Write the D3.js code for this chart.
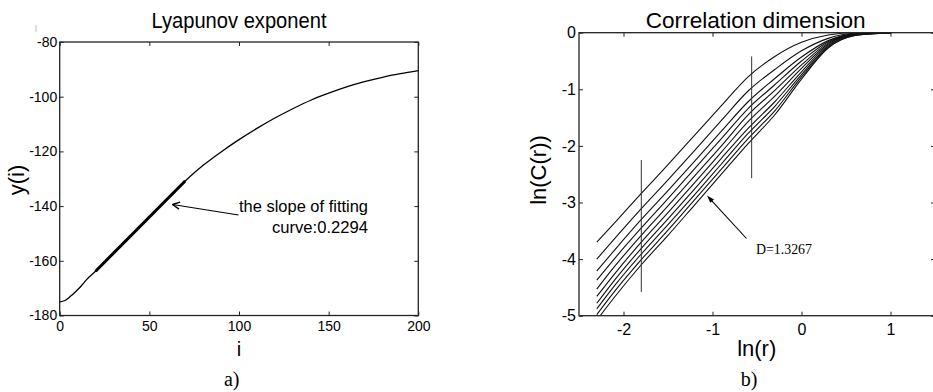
<!DOCTYPE html>
<html>
<head>
<meta charset="utf-8">
<script src="https://cdn.jsdelivr.net/npm/d3@7/dist/d3.min.js"></script>
<style>
  body { margin: 0; background: #fff; }
  svg { display: block; font-family: "Liberation Sans", Arial, sans-serif; }
  .tick text { fill: #000; }
</style>
</head>
<body>
<svg id="chart" width="933" height="392"></svg>
<script>
// ---------- Data: panel a) Lyapunov exponent ----------
const lyapI = [0, 3, 6, 9, 12, 15, 20, 30, 40, 50, 60, 70, 80, 90, 100, 110, 120, 130, 140, 150, 160, 170, 180, 190, 200];
const lyapY = [-175, -174.5, -173, -171.2, -169.2, -166.9, -163.8, -157.2, -150.6, -144, -137.4, -130.8, -125.1, -120.2, -115.7, -111.6, -107.8, -104.4, -101.3, -98.7, -96.4, -94.5, -92.9, -91.6, -90.5];
const fitI = [20, 70];
const fitY = [-163.8, -130.8];
const lyapXTicks = [0, 50, 100, 150, 200];
const lyapYTicks = [-80, -100, -120, -140, -160, -180];

// ---------- Data: panel b) Correlation dimension ----------
const lnR = [-2.3, -2.1, -1.8, -1.5, -1.2, -0.9, -0.6, -0.3, 0, 0.3, 0.6, 0.9, 1.0];
const lnC1  = [-3.70, -3.36, -2.84, -2.33, -1.81, -1.29, -0.78, -0.42, -0.17, -0.04, 0, 0, 0];
const lnC2  = [-4.00, -3.64, -3.11, -2.60, -2.08, -1.55, -1.03, -0.65, -0.32, -0.10, -0.01, 0, 0];
const lnC3  = [-4.21, -3.84, -3.30, -2.79, -2.27, -1.74, -1.22, -0.81, -0.43, -0.14, -0.02, 0, 0];
const lnC4  = [-4.37, -3.99, -3.45, -2.93, -2.40, -1.87, -1.34, -0.92, -0.50, -0.16, -0.02, 0, 0];
const lnC5  = [-4.53, -4.13, -3.58, -3.06, -2.53, -2.00, -1.45, -1.02, -0.57, -0.18, -0.03, 0, 0];
const lnC6  = [-4.66, -4.26, -3.70, -3.18, -2.65, -2.11, -1.57, -1.12, -0.63, -0.20, -0.03, 0, 0];
const lnC7  = [-4.78, -4.37, -3.81, -3.29, -2.76, -2.22, -1.69, -1.22, -0.69, -0.22, -0.04, 0, 0];
const lnC8  = [-4.88, -4.47, -3.91, -3.39, -2.86, -2.32, -1.78, -1.30, -0.74, -0.24, -0.04, 0, 0];
const lnC9  = [-4.98, -4.57, -4.01, -3.49, -2.95, -2.41, -1.87, -1.38, -0.78, -0.26, -0.05, -0.01, 0];
const lnC10 = [-5.08, -4.67, -4.10, -3.58, -3.04, -2.50, -1.96, -1.45, -0.82, -0.27, -0.05, -0.01, 0];
const corrSeries = [lnC1, lnC2, lnC3, lnC4, lnC5, lnC6, lnC7, lnC8, lnC9, lnC10];
const fitBoundsX = [-1.8, -0.56];
const fitBoundsY = [[-2.25, -4.58], [-0.42, -2.57]];
const corrXTicks = [-2, -1, 0, 1];
const corrYTicks = [0, -1, -2, -3, -4, -5];

const svg = d3.select("#chart");
const AX = "#222";
const fmt = d => String(d);

// ================= Panel a =================
const xa = d3.scaleLinear().domain([0, 200]).range([59.7, 418.3]);
const ya = d3.scaleLinear().domain([-180, -80]).range([315.5, 42]);
const ga = svg.append("g");

function styleAxis(g, fs) {
  g.select(".domain").remove();
  g.selectAll(".tick line").attr("stroke", AX).attr("stroke-width", 1);
  g.selectAll(".tick text").attr("font-size", fs).attr("font-family", "'Liberation Sans', Arial, sans-serif");
}

ga.append("g").attr("transform", `translate(0,${ya(-180)})`)
  .call(d3.axisBottom(xa).tickValues(lyapXTicks).tickFormat(fmt).tickSizeInner(-4).tickSizeOuter(0).tickPadding(6))
  .call(g => styleAxis(g, 14));
ga.append("g").attr("transform", `translate(0,${ya(-80)})`)
  .call(d3.axisTop(xa).tickValues(lyapXTicks).tickFormat("").tickSizeInner(-4).tickSizeOuter(0))
  .call(g => styleAxis(g, 14));
ga.append("g").attr("transform", `translate(${xa(0)},0)`)
  .call(d3.axisLeft(ya).tickValues(lyapYTicks).tickFormat(fmt).tickSizeInner(-4).tickSizeOuter(0).tickPadding(2.5))
  .call(g => styleAxis(g, 14));
ga.append("g").attr("transform", `translate(${xa(200)},0)`)
  .call(d3.axisRight(ya).tickValues(lyapYTicks).tickFormat("").tickSizeInner(-4).tickSizeOuter(0))
  .call(g => styleAxis(g, 14));

ga.append("rect")
  .attr("x", xa(0)).attr("y", ya(-80))
  .attr("width", xa(200) - xa(0)).attr("height", ya(-180) - ya(-80))
  .attr("fill", "none").attr("stroke", AX).attr("stroke-width", 1.3);

const lineA = d3.line().x(d => xa(d[0])).y(d => ya(d[1])).curve(d3.curveMonotoneX);
ga.append("path").datum(lyapI.map((v, i) => [v, lyapY[i]]))
  .attr("d", lineA).attr("fill", "none").attr("stroke", "#000").attr("stroke-width", 1.3);
ga.append("path").datum(fitI.map((v, i) => [v, fitY[i]]))
  .attr("d", d3.line().x(d => xa(d[0])).y(d => ya(d[1])))
  .attr("fill", "none").attr("stroke", "#000").attr("stroke-width", 3);

// annotation arrow (open head)
const tipA = [172.5, 204.5], tailA = [238.5, 215];
ga.append("line").attr("x1", tailA[0]).attr("y1", tailA[1]).attr("x2", tipA[0]).attr("y2", tipA[1])
  .attr("stroke", "#000").attr("stroke-width", 1.2);
{
  const ang = Math.atan2(tailA[1] - tipA[1], tailA[0] - tipA[0]);
  const L = 8, w = 0.45;
  [ang - w, ang + w].forEach(a => {
    ga.append("line").attr("x1", tipA[0]).attr("y1", tipA[1])
      .attr("x2", tipA[0] + L * Math.cos(a)).attr("y2", tipA[1] + L * Math.sin(a))
      .attr("stroke", "#000").attr("stroke-width", 1.4);
  });
}
ga.append("text").attr("x", 368).attr("y", 211.7).attr("text-anchor", "end")
  .attr("font-size", 17).attr("textLength", 129).attr("lengthAdjust", "spacingAndGlyphs")
  .text("the slope of fitting");
ga.append("text").attr("x", 368).attr("y", 232.7).attr("text-anchor", "end")
  .attr("font-size", 17).attr("textLength", 96).attr("lengthAdjust", "spacingAndGlyphs")
  .text("curve:0.2294");

ga.append("text").attr("x", 239).attr("y", 28).attr("text-anchor", "middle")
  .attr("font-size", 22).attr("textLength", 175).attr("lengthAdjust", "spacingAndGlyphs")
  .text("Lyapunov exponent");
ga.append("text").attr("x", 239).attr("y", 356).attr("text-anchor", "middle")
  .attr("font-size", 20).text("i");
ga.append("text").attr("transform", "translate(24,180) rotate(-90)").attr("text-anchor", "middle")
  .attr("font-size", 22).text("y(i)");
ga.append("text").attr("x", 231.7).attr("y", 386).attr("text-anchor", "middle")
  .attr("font-family", "'Liberation Serif', 'Times New Roman', serif").attr("font-size", 20).text("a)");
// tiny scan artifact mark near top-left
ga.append("line").attr("x1", 36).attr("y1", 25).attr("x2", 36).attr("y2", 32)
  .attr("stroke", "#bbb").attr("stroke-width", 1);

// ================= Panel b =================
const xb = d3.scaleLinear().domain([-2.5, 1.5]).range([579, 935]);
const yb = d3.scaleLinear().domain([-5, 0]).range([315.7, 32.7]);
const gb = svg.append("g");

gb.append("g").attr("transform", `translate(0,${yb(-5)})`)
  .call(d3.axisBottom(xb).tickValues(corrXTicks).tickFormat(fmt).tickSizeInner(-4).tickSizeOuter(0).tickPadding(7.5))
  .call(g => styleAxis(g, 16));
gb.append("g").attr("transform", `translate(0,${yb(0)})`)
  .call(d3.axisTop(xb).tickValues(corrXTicks).tickFormat("").tickSizeInner(-4).tickSizeOuter(0))
  .call(g => styleAxis(g, 16));
gb.append("g").attr("transform", `translate(${xb(-2.5)},0)`)
  .call(d3.axisLeft(yb).tickValues(corrYTicks).tickFormat(fmt).tickSizeInner(-4).tickSizeOuter(0).tickPadding(3))
  .call(g => styleAxis(g, 16));
gb.append("g").attr("transform", `translate(${xb(1.5)},0)`)
  .call(d3.axisRight(yb).tickValues(corrYTicks).tickFormat("").tickSizeInner(-4).tickSizeOuter(0))
  .call(g => styleAxis(g, 16));

svg.append("clipPath").attr("id", "clipB").append("rect")
  .attr("x", xb(-2.5)).attr("y", yb(0)).attr("width", xb(1.5) - xb(-2.5)).attr("height", yb(-5) - yb(0));

const lineB = d3.line().x(d => xb(d[0])).y(d => yb(d[1])).curve(d3.curveMonotoneX);
gb.append("g").attr("clip-path", "url(#clipB)")
  .selectAll("path").data(corrSeries).join("path")
  .attr("d", s => lineB(lnR.map((v, i) => [v, s[i]])))
  .attr("fill", "none").attr("stroke", "#111").attr("stroke-width", 1.1);

gb.append("rect")
  .attr("x", xb(-2.5)).attr("y", yb(0))
  .attr("width", xb(1.5) - xb(-2.5)).attr("height", yb(-5) - yb(0))
  .attr("fill", "none").attr("stroke", AX).attr("stroke-width", 1.3);

fitBoundsX.forEach((xv, k) => {
  gb.append("line").attr("x1", xb(xv)).attr("x2", xb(xv))
    .attr("y1", yb(fitBoundsY[k][0])).attr("y2", yb(fitBoundsY[k][1]))
    .attr("stroke", "#333").attr("stroke-width", 1);
});

// arrow with filled head
const tipB = [707, 195.5], tailB = [746.5, 238.5];
gb.append("line").attr("x1", tailB[0]).attr("y1", tailB[1]).attr("x2", tipB[0] + 3).attr("y2", tipB[1] + 3.3)
  .attr("stroke", "#000").attr("stroke-width", 1.1);
{
  const ang = Math.atan2(tailB[1] - tipB[1], tailB[0] - tipB[0]);
  const L = 8, w = 0.32;
  const p1 = [tipB[0] + L * Math.cos(ang - w), tipB[1] + L * Math.sin(ang - w)];
  const p2 = [tipB[0] + L * Math.cos(ang + w), tipB[1] + L * Math.sin(ang + w)];
  gb.append("path").attr("d", `M${tipB[0]},${tipB[1]}L${p1[0]},${p1[1]}L${p2[0]},${p2[1]}Z`)
    .attr("fill", "#000");
}
gb.append("text").attr("x", 756).attr("y", 254)
  .attr("font-family", "'Liberation Serif', 'Times New Roman', serif")
  .attr("font-size", 15).attr("textLength", 56).attr("lengthAdjust", "spacingAndGlyphs")
  .text("D=1.3267");

gb.append("text").attr("x", 755.7).attr("y", 28).attr("text-anchor", "middle")
  .attr("font-size", 22.5).attr("textLength", 220).attr("lengthAdjust", "spacingAndGlyphs")
  .text("Correlation dimension");
gb.append("text").attr("x", 756.7).attr("y", 355.5).attr("text-anchor", "middle")
  .attr("font-size", 22).text("ln(r)");
gb.append("text").attr("transform", "translate(546,170) rotate(-90)").attr("text-anchor", "middle")
  .attr("font-size", 22).text("ln(C(r))");
gb.append("text").attr("x", 749).attr("y", 386).attr("text-anchor", "middle")
  .attr("font-family", "'Liberation Serif', 'Times New Roman', serif").attr("font-size", 20).text("b)");
</script>
</body>
</html>
